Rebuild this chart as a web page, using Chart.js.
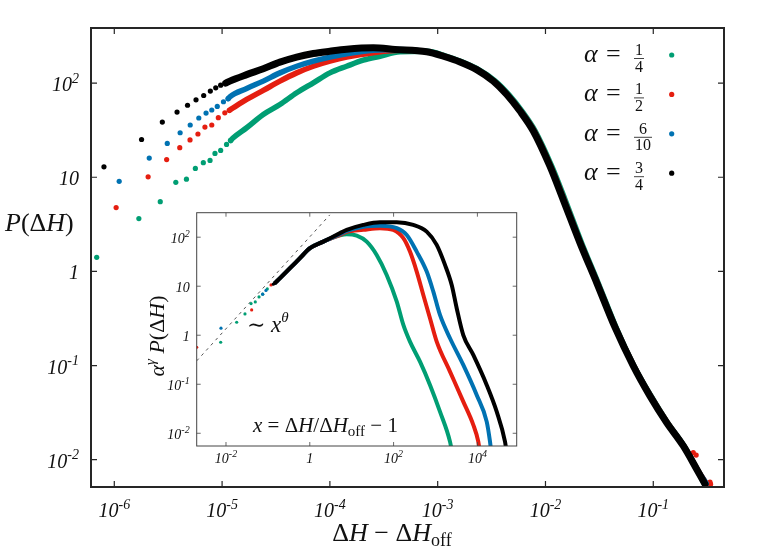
<!DOCTYPE html>
<html>
<head>
<meta charset="utf-8">
<script src="https://cdn.jsdelivr.net/npm/chart.js@4.4.0/dist/chart.umd.min.js"></script>
<style>
  html, body { margin: 0; padding: 0; background: #fff; }
  #wrap { position: relative; width: 775px; height: 555px; }
  #main { position: absolute; left: 0; top: 0; }
  #inset { position: absolute; left: 130px; top: 200px; }
</style>
</head>
<body>
<div id="wrap">
  <canvas id="main" width="775" height="555"></canvas>
  <canvas id="inset" width="400" height="280"></canvas>
</div>
<script>
// main plot: P(dH) vs dH - dH_off
const greenDots = [[6.87e-7,1.41],[1.69e-6,3.64],[2.67e-6,5.51],[3.72e-6,8.83],[4.67e-6,9.55],[5.65e-6,12.4],[6.70e-6,14.3],[7.73e-6,15.1],[8.59e-6,17.9],[9.70e-6,19.3],[1.10e-5,22.3],[1.2e-5,24.6]];
const greenCurve = [[1.2e-5,24.6],[1.27e-5,26.3],[1.69e-5,33.6],[2.41e-5,46.5],[3.44e-5,59.3],[4.92e-5,78.9],[7.02e-5,100.7],[1.0e-4,128.5],[1.43e-4,151],[2.04e-4,175],[2.92e-4,193],[4.47e-4,215],[7.91e-4,218],[1.17e-3,195],[1.68e-3,168],[2.42e-3,138],[3.40e-3,106],[4.59e-3,75.2],[6.05e-3,50.5],[8.00e-3,31.2],[1.15e-2,12.9],[1.52e-2,5.78],[2.16e-2,2.02],[3.07e-2,0.762],[4.60e-2,0.242],[6.62e-2,0.0989],[9.53e-2,0.0475],[0.1355,0.0248],[0.193,0.0140],[0.254,0.00792],[0.295,0.00564]];

const redDots = [[1.04e-6,4.76],[2.06e-6,10.1],[3.06e-6,15.4],[4.05e-6,20.6],[5.04e-6,24.9],[5.97e-6,28.8],[6.93e-6,34.1],[8.02e-6,35.9],[9.23e-6,42.9],[1.06e-5,48.4],[1.17e-5,51.5],[0.235,0.0119],[0.25,0.0112],[0.336,0.00577],[0.34,0.0055]];
const redCurve = [[1.17e-5,51.5],[1.27e-5,54.7],[1.69e-5,67.0],[2.41e-5,83.6],[3.44e-5,105],[4.92e-5,128.5],[7.02e-5,151],[1.0e-4,171],[1.43e-4,189],[2.53e-4,210],[4.47e-4,223],[7.91e-4,216],[1.15e-3,194],[1.64e-3,168],[2.34e-3,139],[3.32e-3,105],[4.44e-3,75.5],[5.9e-3,50.5],[7.85e-3,31.1],[1.12e-2,13.0],[1.49e-2,5.78],[2.12e-2,2.01],[3.03e-2,0.76],[4.5e-2,0.25],[6.6e-2,0.099],[9.45e-2,0.0475],[0.135,0.0248],[0.192,0.0140],[0.256,0.0079],[0.31,0.0056]];

const blueDots = [[1.11e-6,9.05],[2.11e-6,16.0],[3.10e-6,22.9],[4.08e-6,29.7],[5.06e-6,35.9],[6.08e-6,42.6],[7.10e-6,48.1],[8.02e-6,51.8],[9.02e-6,56.5],[1.03e-5,63.4],[1.14e-5,68.5]];
const blueCurve = [[1.14e-5,68.5],[1.18e-5,71.6],[1.69e-5,87.7],[2.41e-5,105],[3.44e-5,128.5],[4.92e-5,151],[7.02e-5,171],[1.0e-4,189],[1.43e-4,205],[2.53e-4,224],[4.47e-4,228],[7.91e-4,216],[1.14e-3,194],[1.63e-3,168],[2.33e-3,139],[3.31e-3,105],[4.42e-3,75.5],[5.87e-3,50.5],[7.80e-3,31.1],[1.11e-2,13.0],[1.48e-2,5.78],[2.11e-2,2.01],[3.02e-2,0.76],[4.48e-2,0.25],[6.58e-2,0.099],[9.4e-2,0.0475],[0.134,0.0248],[0.191,0.0140],[0.255,0.0079],[0.31,0.0056]];

const blackDots = [[8.02e-7,12.9],[1.79e-6,25.2],[2.79e-6,38.6],[3.82e-6,49.3],[4.78e-6,58.2],[5.73e-6,66.5],[6.75e-6,73.9],[7.78e-6,82.3],[8.73e-6,89.2],[9.70e-6,95.2],[1.08e-5,100]];
const blackCurve = [[1.08e-5,100],[1.18e-5,105],[1.69e-5,123],[2.41e-5,142],[3.44e-5,167],[4.92e-5,189],[7.02e-5,206],[1.0e-4,218],[1.43e-4,229],[2.53e-4,237],[4.02e-4,228],[7.91e-4,215],[1.13e-3,193],[1.61e-3,168],[2.30e-3,139],[3.28e-3,105],[4.37e-3,75.7],[5.80e-3,50.5],[7.71e-3,31.0],[1.10e-2,13.1],[1.46e-2,5.78],[2.09e-2,2.01],[2.99e-2,0.757],[4.42e-2,0.254],[6.53e-2,0.0989],[9.31e-2,0.0475],[0.133,0.0248],[0.190,0.0140],[0.253,0.00792],[0.302,0.0055]];

// inset: alpha^gamma P vs x = dH/dH_off - 1
const insetGreenDots = [[7.48e-3,0.72],[1.80e-2,1.84],[2.84e-2,2.72],[3.96e-2,4.42],[5.0e-2,4.79],[6.14e-2,6.05],[7.52e-2,6.87],[9.68e-2,8.81]];
const insetRedDots = [[2.0e-3,0.569],[4.10e-2,3.28],[0.119,10.6]];
const insetBlueDots = [[7.6e-3,1.39],[7.52e-2,6.87],[0.09,8.2]];
const insetBlackDots = [[0.135,11.0]];

const insetGreenCurve = [[0.15,11.8],[0.195,14.6],[0.337,23.3],[0.583,37.3],[1.01,59.7],[2.10,81.3],[5.26,109],[7.6,115],[13.2,108],[22.8,81.3],[39.5,43.5],[68.4,17.0],[119,4.85],[171,1.62],[246,0.740],[427,0.289],[739,0.0968],[1280,0.0276],[2218,0.00675],[2500,0.004]];
const insetRedCurve = [[0.15,11.8],[0.195,14.6],[0.337,23.3],[0.583,37.3],[1.01,59.7],[2.10,81.3],[5.26,111],[7.6,128],[18.9,141],[47.3,153],[98.4,141],[171,95.4],[246,50.8],[356,19.9],[512,6.64],[739,2.22],[1069,0.740],[2218,0.181],[4603,0.0442],[7980,0.0148],[10500,0.00675],[11500,0.004]];
const insetBlueCurve = [[0.15,11.8],[0.195,14.6],[0.337,23.3],[0.583,37.3],[1.01,59.7],[2.10,81.3],[5.26,116],[7.60,134],[18.9,164],[47.3,172],[119,153],[206,111],[356,50.8],[617,19.9],[887,7.76],[1280,2.59],[2218,0.868],[4603,0.248],[9620,0.0605],[16670,0.0173],[20000,0.00675],[21500,0.004]];
const insetBlackCurve = [[0.15,11.8],[0.195,14.6],[0.337,23.3],[0.583,37.3],[1.01,59.7],[2.10,81.3],[5.26,121],[7.60,141],[18.9,178],[47.3,202],[119,202],[295,178],[617,130],[1069,69.7],[1687,27.2],[2438,10.6],[3206,3.56],[4603,1.01],[7980,0.396],[16670,0.0968],[28900,0.0276],[45600,0.00675],[50000,0.004]];
const powerLaw = [[0.002,0.30],[3.0,285]];

// ticks
const mainXTicks = [1e-6, 1e-5, 1e-4, 1e-3, 1e-2, 1e-1];
const mainXLabels = [['10','-6'],['10','-5'],['10','-4'],['10','-3'],['10','-2'],['10','-1']];
const mainYTicks = [1e-2, 1e-1, 1, 10, 100];
const mainYLabels = [['10','-2'],['10','-1'],['1',''],['10',''],['10','2']];
const insetXTicks = [1e-2, 1, 1e2, 1e4];
const insetXLabels = [['10','-2'],['1',''],['10','2'],['10','4']];
const insetYTicks = [1e-2, 1e-1, 1, 10, 100];
const insetYLabels = [['10','-2'],['10','-1'],['1',''],['10',''],['10','2']];

const alphaNum = ['1', '1', '6', '3'];
const alphaDen = ['4', '2', '10', '4'];
const colors = ['#009e73', '#e51e10', '#0072b2', '#000000'];

const SERIF = '"Liberation Serif", "DejaVu Serif", serif';
const it = s => `italic ${s}px ${SERIF}`;
const up = s => `${s}px ${SERIF}`;
const xy = a => a.map(([x, y]) => ({ x, y }));

function drawRich(ctx, parts, x, y, align) {
  let w = 0;
  parts.forEach(p => { ctx.font = p[1]; w += ctx.measureText(p[0]).width; });
  let cx = align === 'right' ? x - w : align === 'center' ? x - w / 2 : x;
  ctx.textAlign = 'left';
  ctx.textBaseline = 'alphabetic';
  parts.forEach(p => {
    ctx.font = p[1];
    ctx.fillText(p[0], cx, y + (p[2] || 0));
    cx += ctx.measureText(p[0]).width;
  });
  return w;
}

function powLabel(lab, size) {
  const parts = [[lab[0], it(size)]];
  if (lab[1]) parts.push([lab[1], it(Math.round(size * 0.7)), -size * 0.42]);
  return parts;
}

function decor(cfg) {
  return {
    id: 'decor',
    beforeDatasetsDraw(chart) {
      if (!cfg.fill) return;
      const { ctx, chartArea: a } = chart;
      ctx.save();
      ctx.fillStyle = '#fff';
      ctx.fillRect(a.left, a.top, a.right - a.left, a.bottom - a.top);
      ctx.restore();
    },
    afterDatasetsDraw(chart) {
      const { ctx, chartArea: a, scales: { x, y } } = chart;
      ctx.save();
      ctx.strokeStyle = cfg.frameColor;
      ctx.lineWidth = cfg.tickWidth;
      ctx.beginPath();
      cfg.xTicks.forEach(v => {
        const px = x.getPixelForValue(v);
        ctx.moveTo(px, a.bottom); ctx.lineTo(px, a.bottom - cfg.tickLen);
        ctx.moveTo(px, a.top); ctx.lineTo(px, a.top + cfg.tickLen);
      });
      cfg.yTicks.forEach(v => {
        const py = y.getPixelForValue(v);
        ctx.moveTo(a.left, py); ctx.lineTo(a.left + cfg.tickLen, py);
        ctx.moveTo(a.right, py); ctx.lineTo(a.right - cfg.tickLen, py);
      });
      ctx.stroke();
      ctx.lineWidth = cfg.frameWidth;
      ctx.strokeRect(a.left, a.top, a.right - a.left, a.bottom - a.top);

      ctx.fillStyle = '#111';
      cfg.xTicks.forEach((v, i) => drawRich(ctx, powLabel(cfg.xLabels[i], cfg.font), x.getPixelForValue(v), a.bottom + cfg.xLabelDy, 'center'));
      cfg.yTicks.forEach((v, i) => drawRich(ctx, powLabel(cfg.yLabels[i], cfg.font), a.left - cfg.yLabelDx, y.getPixelForValue(v) + cfg.font * 0.4, 'right'));
      if (cfg.extra) cfg.extra(ctx, chart);
      ctx.restore();
    }
  };
}

function mainExtra(ctx) {
  // axis titles
  drawRich(ctx, [['Δ', up(26)], ['H', it(26)], [' − ', up(26)], ['Δ', up(26)], ['H', it(26)], ['off', up(18), 5]], 392, 541, 'center');
  drawRich(ctx, [['P', it(26)], ['(', up(26)], ['Δ', up(26)], ['H', it(26)], [')', up(26)]], 5, 231, 'left');
  // legend
  colors.forEach((c, i) => {
    const yc = 55 + i * 39.4;
    ctx.fillStyle = '#111';
    drawRich(ctx, [['α', it(26)]], 584, yc + 7, 'left');
    drawRich(ctx, [['=', up(26)]], 606, yc + 7, 'left');
    ctx.font = up(16);
    const w = Math.max(ctx.measureText(alphaNum[i]).width, ctx.measureText(alphaDen[i]).width);
    const cx = 635 + w / 2;
    drawRich(ctx, [[alphaNum[i], up(16)]], cx, yc, 'center');
    drawRich(ctx, [[alphaDen[i], up(16)]], cx, yc + 16.5, 'center');
    ctx.strokeStyle = '#111';
    ctx.lineWidth = 0.8;
    ctx.beginPath();
    ctx.moveTo(cx - w / 2 - 1, yc + 3.5); ctx.lineTo(cx + w / 2 + 1, yc + 3.5);
    ctx.stroke();
    ctx.fillStyle = c;
    ctx.beginPath();
    ctx.arc(671.7, yc, 2.6, 0, Math.PI * 2);
    ctx.fill();
  });
}

function insetExtra(ctx) {
  ctx.fillStyle = '#111';
  drawRich(ctx, [['∼ ', up(22)], ['x', it(23)], ['θ', it(15), -10]], 117, 131.5, 'left');
  drawRich(ctx, [['x', it(21)], [' = ', up(21)], ['Δ', up(21)], ['H', it(21)], ['/', up(21)], ['Δ', up(21)], ['H', it(21)], ['off', up(15), 4], [' − 1', up(21)]], 123, 231.5, 'left');
  ctx.save();
  ctx.translate(33.5, 136);
  ctx.rotate(-Math.PI / 2);
  drawRich(ctx, [['α', it(22)], ['γ', it(15), -9], [' P', it(22)], ['(', up(22)], ['Δ', up(22)], ['H', it(22)], [')', up(22)]], 0, 0, 'center');
  ctx.restore();
}

const dots = (d, c, order, r) => ({ data: xy(d), showLine: false, pointRadius: r, pointBorderWidth: 0, backgroundColor: c, order });
const curve = (d, c, order, w) => ({
  data: xy(d), showLine: true, borderColor: c, borderWidth: w, pointRadius: 0,
  cubicInterpolationMode: 'monotone', borderJoinStyle: 'round', borderCapStyle: 'round', order
});

new Chart(document.getElementById('main'), {
  type: 'scatter',
  data: {
    datasets: [
      dots(greenDots, colors[0], 3, 2.6), curve(greenCurve, colors[0], 3, 5.5),
      dots(redDots, colors[1], 2, 2.6), curve(redCurve, colors[1], 2, 5.5),
      dots(blueDots, colors[2], 1, 2.6), curve(blueCurve, colors[2], 1, 5.5),
      dots(blackDots, colors[3], 0, 2.6), curve(blackCurve, colors[3], 0, 7)
    ]
  },
  options: {
    responsive: false,
    animation: false,
    devicePixelRatio: 1,
    layout: { padding: { left: 91, right: 51, top: 28, bottom: 68 } },
    plugins: { legend: { display: false }, tooltip: { enabled: false } },
    scales: {
      x: { type: 'logarithmic', min: 6.08e-7, max: 0.453, display: false },
      y: { type: 'logarithmic', min: 0.00513, max: 385, display: false }
    }
  },
  plugins: [decor({
    xTicks: mainXTicks, xLabels: mainXLabels, yTicks: mainYTicks, yLabels: mainYLabels,
    font: 20, tickLen: 6, tickWidth: 1.2, frameWidth: 2, frameColor: '#262626',
    xLabelDy: 30, yLabelDx: 12, extra: mainExtra
  })]
});

new Chart(document.getElementById('inset'), {
  type: 'scatter',
  data: {
    datasets: [
      { data: xy(powerLaw), showLine: true, borderColor: '#555', borderWidth: 1, borderDash: [3, 4], pointRadius: 0, order: 5 },
      dots(insetGreenDots, colors[0], 3, 1.6), curve(insetGreenCurve, colors[0], 3, 4),
      dots(insetRedDots, colors[1], 2, 1.6), curve(insetRedCurve, colors[1], 2, 4),
      dots(insetBlueDots, colors[2], 1, 1.6), curve(insetBlueCurve, colors[2], 1, 4),
      dots(insetBlackDots, colors[3], 0, 1.6), curve(insetBlackCurve, colors[3], 0, 4)
    ]
  },
  options: {
    responsive: false,
    animation: false,
    devicePixelRatio: 1,
    layout: { padding: { left: 66.7, right: 13.3, top: 12.7, bottom: 34 } },
    plugins: { legend: { display: false }, tooltip: { enabled: false } },
    scales: {
      x: { type: 'logarithmic', min: 0.002, max: 86700, display: false },
      y: { type: 'logarithmic', min: 0.0055, max: 316, display: false }
    }
  },
  plugins: [decor({
    xTicks: insetXTicks, xLabels: insetXLabels, yTicks: insetYTicks, yLabels: insetYLabels,
    font: 14, tickLen: 4, tickWidth: 0.8, frameWidth: 1, frameColor: '#444',
    xLabelDy: 17, yLabelDx: 7, fill: true, extra: insetExtra
  })]
});
</script>
</body>
</html>
